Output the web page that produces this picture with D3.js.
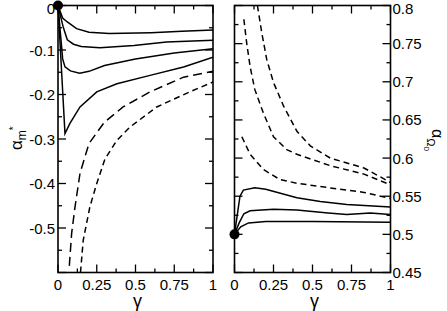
<!DOCTYPE html>
<html><head><meta charset="utf-8">
<script src="https://cdn.jsdelivr.net/npm/d3@7"></script>
<style>body{margin:0;background:#fff}svg{display:block}text{font-family:"Liberation Sans",Arial,sans-serif;fill:#000}</style>
</head><body><svg id="c" width="447" height="311"></svg>
<script>
// ---- data ----
const xTicks = [0, 0.25, 0.5, 0.75, 1];
const xTickLabels = ["0", "0.25", "0.5", "0.75", "1"];
const leftYTicks = [0, -0.1, -0.2, -0.3, -0.4, -0.5];
const leftYTickLabels = ["0", "-0.1", "-0.2", "-0.3", "-0.4", "-0.5"];
const rightYTicks = [0.45, 0.5, 0.55, 0.6, 0.65, 0.7, 0.75, 0.8];
const rightYTickLabels = ["0.45", "0.5", "0.55", "0.6", "0.65", "0.7", "0.75", "0.8"];

// left panel: alpha_m* vs gamma
const leftSolid1 = [[0,0],[0.03,-0.028],[0.06,-0.037],[0.12,-0.052],[0.2,-0.06],[0.33,-0.063],[0.6,-0.061],[0.8,-0.058],[1,-0.055]];
const leftSolid2 = [[0,0],[0.034,-0.049],[0.06,-0.077],[0.1,-0.087],[0.15,-0.092],[0.27,-0.095],[0.49,-0.09],[0.7,-0.082],[1,-0.078]];
const leftSolid3 = [[0,0],[0.03,-0.12],[0.045,-0.138],[0.08,-0.147],[0.14,-0.152],[0.2,-0.148],[0.3,-0.135],[0.5,-0.12],[0.75,-0.107],[1,-0.097]];
const leftSolid4 = [[0,0],[0.045,-0.288],[0.077,-0.265],[0.142,-0.228],[0.25,-0.194],[0.38,-0.176],[0.594,-0.157],[0.81,-0.138],[1,-0.116]];
const leftDashLong = [[0.073,-0.585],[0.088,-0.512],[0.11,-0.452],[0.142,-0.377],[0.2,-0.31],[0.3,-0.262],[0.42,-0.228],[0.594,-0.194],[0.81,-0.161],[1,-0.148]];
const leftDashShort = [[0.145,-0.6],[0.163,-0.527],[0.206,-0.452],[0.25,-0.4],[0.303,-0.345],[0.38,-0.303],[0.465,-0.273],[0.637,-0.228],[0.85,-0.194],[1,-0.172]];
const leftStart = [[0,0]];

// right panel: alpha_Omega0 vs gamma
const rightSolid1 = [[0,0.5],[0.035,0.55],[0.057,0.558],[0.13,0.561],[0.2,0.559],[0.4,0.548],[0.55,0.543],[0.72,0.539],[1,0.536]];
const rightSolid2 = [[0,0.5],[0.03,0.515],[0.06,0.527],[0.1,0.531],[0.25,0.533],[0.4,0.532],[0.6,0.528],[0.72,0.526],[0.87,0.528],[1,0.526]];
const rightSolid3 = [[0,0.5],[0.04,0.51],[0.09,0.515],[0.2,0.517],[0.5,0.517],[1,0.516]];
const rightDash1 = [[0.047,0.628],[0.1,0.605],[0.185,0.585],[0.29,0.572],[0.4,0.567],[0.61,0.561],[0.83,0.555],[1,0.547]];
const rightDash2 = [[0.06,0.782],[0.078,0.751],[0.1,0.72],[0.13,0.69],[0.185,0.659],[0.25,0.628],[0.335,0.611],[0.4,0.605],[0.614,0.59],[0.83,0.579],[1,0.565]];
const rightDash3 = [[0.147,0.8],[0.175,0.764],[0.207,0.729],[0.25,0.699],[0.315,0.668],[0.4,0.635],[0.486,0.616],[0.614,0.6],[0.83,0.587],[1,0.568]];
const rightStart = [[0,0.5]];

// ---- drawing ----
const svg = d3.select("#c");
const plotTop = 5.5, plotBottom = 272.5;

function panel(id, x0, x1, yDomain, yMajor, yMinorStep, yLabels, labelSide, series, dot) {
  const x = d3.scaleLinear().domain([0, 1]).range([x0, x1]);
  const y = d3.scaleLinear().domain(yDomain).range([plotBottom, plotTop]);
  const g = svg.append("g");
  g.append("clipPath").attr("id", id).append("rect")
    .attr("x", x0).attr("y", plotTop).attr("width", x1 - x0).attr("height", plotBottom - plotTop);
  const line = d3.line().x(d => x(d[0])).y(d => y(d[1]));
  const cg = g.append("g").attr("clip-path", `url(#${id})`);
  series.forEach(s => {
    cg.append("path").attr("d", line(s.data)).attr("fill", "none")
      .attr("stroke", "#000").attr("stroke-width", 1.5)
      .attr("stroke-dasharray", s.dash || null);
  });
  const xMinor = d3.range(0, 1.0001, 0.125);
  xMinor.forEach((t, i) => {
    const L = i % 2 === 0 ? 8 : 4;
    g.append("line").attr("x1", x(t)).attr("x2", x(t)).attr("y1", plotBottom).attr("y2", plotBottom - L).attr("stroke", "#000").attr("stroke-width", 1.3);
    g.append("line").attr("x1", x(t)).attr("x2", x(t)).attr("y1", plotTop).attr("y2", plotTop + L).attr("stroke", "#000").attr("stroke-width", 1.3);
  });
  const [ya, yb] = yDomain;
  const n = Math.round((yb - ya) / yMinorStep);
  for (let i = 0; i <= n; i++) {
    const t = ya + i * yMinorStep;
    const L = i % 2 === 0 ? 8 : 4;
    g.append("line").attr("x1", x0).attr("x2", x0 + L).attr("y1", y(t)).attr("y2", y(t)).attr("stroke", "#000").attr("stroke-width", 1.3);
    g.append("line").attr("x1", x1).attr("x2", x1 - L).attr("y1", y(t)).attr("y2", y(t)).attr("stroke", "#000").attr("stroke-width", 1.3);
  }
  g.append("rect").attr("x", x0).attr("y", plotTop).attr("width", x1 - x0).attr("height", plotBottom - plotTop)
    .attr("fill", "none").attr("stroke", "#000").attr("stroke-width", 1.6);
  xTicks.forEach((t, i) => {
    g.append("text").attr("x", x(t)).attr("y", 289.5).attr("text-anchor", "middle")
      .attr("font-size", 15).text(xTickLabels[i]);
  });
  yMajor.forEach((t, i) => {
    const tx = g.append("text").attr("y", Math.max(y(t) + 5.5, 13.8)).attr("font-size", 15).text(yLabels[i]);
    if (labelSide === "left") tx.attr("x", x0 - 3).attr("text-anchor", "end");
    else tx.attr("x", x1 + 2).attr("text-anchor", "start");
  });
  g.append("text").attr("x", (x0 + x1) / 2 + 2).attr("y", 307).attr("text-anchor", "middle")
    .attr("font-size", 18).text("γ");
  dot.forEach(d => g.append("circle").attr("cx", x(d[0])).attr("cy", y(d[1])).attr("r", 5).attr("fill", "#000"));
  return { x, y };
}

panel("clipL", 58, 213, [-0.6, 0], leftYTicks, 0.05, leftYTickLabels, "left", [
  { data: leftSolid1 }, { data: leftSolid2 }, { data: leftSolid3 }, { data: leftSolid4 },
  { data: leftDashLong, dash: "9,5" }, { data: leftDashShort, dash: "6,4" }
], leftStart);

panel("clipR", 234.5, 390.5, [0.45, 0.8], rightYTicks, 0.025, rightYTickLabels, "right", [
  { data: rightSolid1 }, { data: rightSolid2 }, { data: rightSolid3 },
  { data: rightDash1, dash: "6,4" }, { data: rightDash2, dash: "6,4" }, { data: rightDash3, dash: "6,4" }
], rightStart);

const lt = svg.append("text").attr("transform", "translate(22,150) rotate(-90)").attr("font-size", 17);
lt.append("tspan").text("α");
lt.append("tspan").attr("font-size", 12).attr("dy", 4).text("m");
lt.append("tspan").attr("font-size", 10).attr("dy", -9).text("*");

const rt = svg.append("text").attr("transform", "translate(432,129) rotate(90)").attr("font-size", 16);
rt.append("tspan").text("α");
rt.append("tspan").attr("font-size", 11).attr("dy", 5).text("Ω");
rt.append("tspan").attr("font-size", 8).attr("dy", 3).text("0");
</script></body></html>
